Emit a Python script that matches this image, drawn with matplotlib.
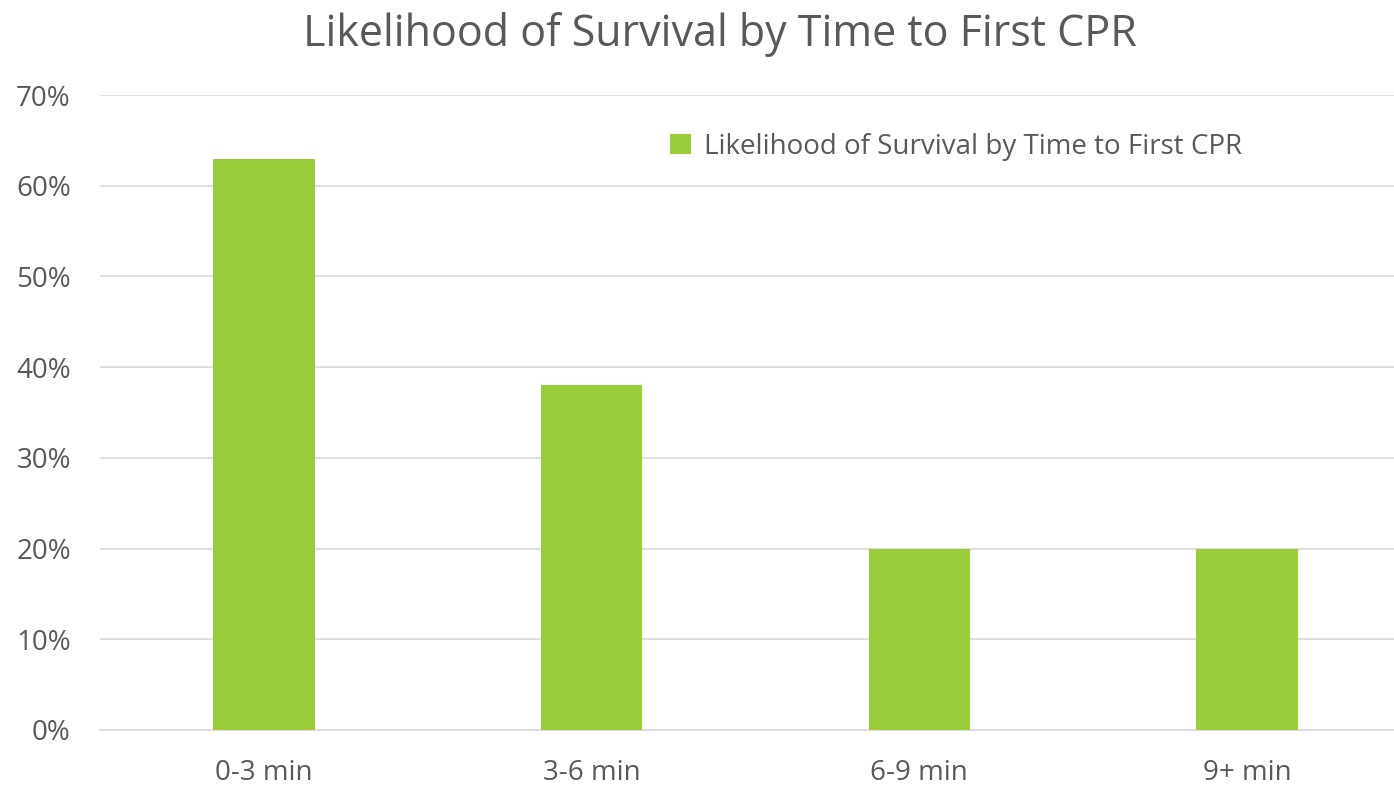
import matplotlib.pyplot as plt
from matplotlib.ticker import PercentFormatter

plt.rcParams['font.family'] = ['Open Sans', 'DejaVu Sans']

categories = ["0-3 min", "3-6 min", "6-9 min", "9+ min"]
survival = [63, 38, 20, 20]
series_name = "Likelihood of Survival by Time to First CPR"

text_color = "#595959"
bar_color = "#9ACD3A"

fig = plt.figure(figsize=(13.94, 7.85), dpi=100)
# plot area runs a bit past the right edge, like the original
ax = fig.add_axes([100 / 1394, 55 / 785, 1311 / 1394, 635 / 785])

x = range(len(categories))
ax.bar(x, survival, width=0.31, color=bar_color, label=series_name, zorder=3)

ax.set_xlim(-0.5, 3.5)
ax.set_ylim(0, 70)
ax.set_yticks(range(0, 71, 10))
ax.yaxis.set_major_formatter(PercentFormatter(decimals=0))
ax.set_xticks(list(x))
ax.set_xticklabels(categories)

ax.grid(axis="y", color="#D9D9D9", linewidth=1.2, zorder=0)
for side in ["top", "right", "left"]:
    ax.spines[side].set_visible(False)
ax.spines["bottom"].set_color("#D9D9D9")
ax.spines["bottom"].set_linewidth(1.2)
ax.tick_params(axis="both", length=0, labelsize=20, colors=text_color)
ax.tick_params(axis="y", pad=21)
ax.tick_params(axis="x", pad=21)

fig.suptitle(series_name, fontsize=31, color=text_color, y=0.985, x=0.5165)

ax.legend(loc="upper left", bbox_to_anchor=(0.416, 0.98), frameon=False,
          fontsize=20, labelcolor=text_color, handlelength=0.75,
          handleheight=0.75, handletextpad=0.45)

fig.savefig("out.png", dpi=100)
